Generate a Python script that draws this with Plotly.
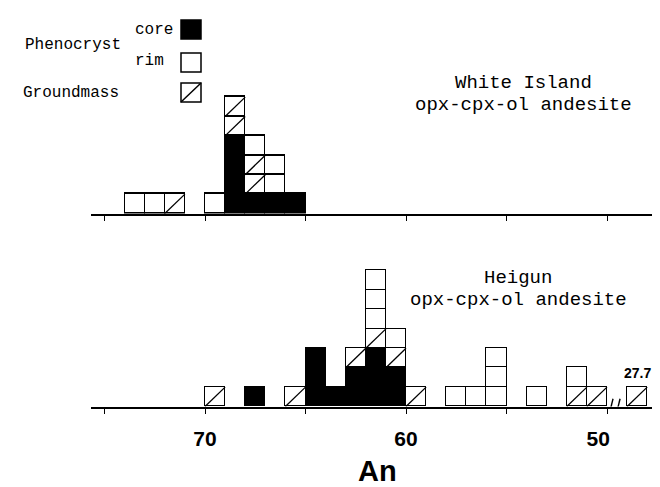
import plotly.graph_objects as go

# ---------------- data (An bins of 1 unit, bin centres) ----------------
top_an   = [73.5, 72.5, 71.5, 69.5, 68.5, 67.5, 66.5, 65.5]
top_core = [0, 0, 0, 0, 4, 1, 1, 1]
top_gm   = [0, 0, 1, 0, 2, 2, 0, 0]
top_rim  = [1, 1, 0, 1, 0, 1, 2, 0]

bot_an   = [69.5, 67.5, 65.5, 64.5, 63.5, 62.5, 61.5, 60.5, 59.5, 57.5, 56.5, 55.5, 53.5, 51.5, 50.5]
bot_core = [0, 1, 0, 3, 1, 2, 3, 2, 0, 0, 0, 0, 0, 0, 0]
bot_gm   = [1, 0, 1, 0, 0, 1, 1, 1, 1, 0, 0, 0, 0, 1, 1]
bot_rim  = [0, 0, 0, 0, 0, 0, 3, 1, 0, 1, 1, 3, 1, 1, 0]

outlier_value = 27.7      # groundmass grain beyond the axis break
outlier_gm = 1
outlier_slot = 48.5       # where it is drawn, right of the break

tick_vals = [75, 70, 65, 60, 55, 50]
tick_text = ["", "70", "", "60", "", "50\u00a0\u00a0\u00a0"]
axis_title = "An"

# ---------------- layout constants ----------------
W, H = 660, 487
PXU = 20.1          # px per An unit
X70 = 197           # px of An 70
XL = 83             # left end of axes
XR_TOP, XR_BOT = 645, 655
BOX_H = 19.4
BASE_TOP, BASE_BOT = 205.5, 398.5
NTOP, NBOT = 7, 8

def an_at(px):
    return 70 + (X70 - px) / PXU

def py2p(py):
    return 1 - py / H

def px2p(px):
    return px / W

fig = go.Figure()

def add_panel(an, core, gm, rim, xa, ya, extra=None):
    an = list(an); core = list(core); gm = list(gm); rim = list(rim)
    if extra is not None:
        an.append(extra[0]); core.append(0); gm.append(extra[1]); rim.append(0)
    line = dict(color="black", width=1.3)
    fig.add_trace(go.Bar(x=an, y=[c if c > 0 else None for c in core], width=1,
                         marker=dict(color="black", line=line), xaxis=xa, yaxis=ya,
                         showlegend=False, hoverinfo="skip"))
    for k in range(1, max(gm) + 1):
        fig.add_trace(go.Bar(x=an, y=[1 if g >= k else None for g in gm], width=1,
                             marker=dict(color="white", line=line), xaxis=xa, yaxis=ya,
                             showlegend=False, hoverinfo="skip"))
    for k in range(1, max(rim) + 1):
        fig.add_trace(go.Bar(x=an, y=[1 if r >= k else None for r in rim], width=1,
                             marker=dict(color="white", line=line), xaxis=xa, yaxis=ya,
                             showlegend=False, hoverinfo="skip"))
    # diagonals of groundmass boxes
    dx, dy = [], []
    for a, c, g in zip(an, core, gm):
        for k in range(g):
            y0 = c + k
            dx += [a + 0.5, a - 0.5, None]
            dy += [y0, y0 + 1, None]
    fig.add_trace(go.Scatter(x=dx, y=dy, mode="lines", line=dict(color="black", width=1.3),
                             xaxis=xa, yaxis=ya, showlegend=False, hoverinfo="skip"))

add_panel(top_an, top_core, top_gm, top_rim, "x", "y")
add_panel(bot_an, bot_core, bot_gm, bot_rim, "x2", "y2", extra=(outlier_slot, outlier_gm))

axis_common = dict(showline=True, linecolor="black", linewidth=1.6, ticks="outside",
                   ticklen=6, tickwidth=1.4, tickcolor="black", showgrid=False,
                   zeroline=False, tickvals=tick_vals, ticktext=tick_text)

fig.update_layout(
    width=W, height=H, margin=dict(l=0, r=0, t=0, b=0),
    paper_bgcolor="white", plot_bgcolor="rgba(0,0,0,0)",
    barmode="stack", bargap=0,
    xaxis=dict(domain=[px2p(XL), px2p(XR_TOP)], range=[an_at(XL), an_at(XR_TOP)],
               anchor="y", showticklabels=False, **axis_common),
    yaxis=dict(domain=[py2p(BASE_TOP), py2p(BASE_TOP - NTOP * BOX_H)], range=[0, NTOP],
               anchor="x", visible=False),
    xaxis2=dict(domain=[px2p(XL), px2p(XR_BOT)], range=[an_at(XL), an_at(XR_BOT)],
                anchor="y2", showticklabels=True, ticklabelstandoff=6,
                tickfont=dict(family="Liberation Sans", size=21, color="black", weight="bold"),
                **axis_common),
    yaxis2=dict(domain=[py2p(BASE_BOT), py2p(BASE_BOT - NBOT * BOX_H)], range=[0, NBOT],
                anchor="x2", visible=False),
)

# axis title as a paper annotation (keeps it inside the page)
fig.add_annotation(x=px2p((XL + XR_BOT) / 2), y=py2p(463), xref="paper", yref="paper",
                   text=axis_title, showarrow=False, xanchor="center", yanchor="middle",
                   font=dict(family="Liberation Sans", size=29, color="black", weight="bold"))

# axis break marks
for x0 in (49.9, 49.55):
    fig.add_shape(type="line", xref="x2", yref="y2", x0=x0, y0=-0.45, x1=x0 - 0.2, y1=0.4,
                  line=dict(color="black", width=1.4))

fig.add_annotation(x=outlier_slot, y=outlier_gm, xref="x2", yref="y2", text=f"<b>{outlier_value}</b>",
                   showarrow=False, yanchor="bottom", yshift=4,
                   font=dict(family="Liberation Sans", size=14, color="black"))

mono = "Liberation Mono"
def label(text, x, y, size, anchor="center"):
    fig.add_annotation(x=px2p(x), y=py2p(y), xref="paper", yref="paper", text=text,
                       showarrow=False, xanchor=anchor, yanchor="middle",
                       font=dict(family=mono, size=size, color="black"))

label("White Island", 515, 75, 19)
label("opx-cpx-ol andesite", 515, 97, 19)
label("Heigun", 510, 270, 19)
label("opx-cpx-ol andesite", 510, 292, 19)

# legend
label("Phenocryst", 15, 37, 16, "left")
label("core", 125, 22, 16, "left")
label("rim", 125, 53, 16, "left")
label("Groundmass", 13, 85, 16, "left")

def box(y0, y1, fill, diag=False):
    fig.add_shape(type="rect", xref="paper", yref="paper", x0=px2p(173), x1=px2p(193),
                  y0=py2p(y1), y1=py2p(y0), fillcolor=fill, line=dict(color="black", width=1.5))
    if diag:
        fig.add_shape(type="line", xref="paper", yref="paper", x0=px2p(173), x1=px2p(193),
                      y0=py2p(y1), y1=py2p(y0), line=dict(color="black", width=1.5))

box(12, 31, "black")
box(45, 64, "white")
box(75, 94, "white", diag=True)

fig.write_html("out.html")
